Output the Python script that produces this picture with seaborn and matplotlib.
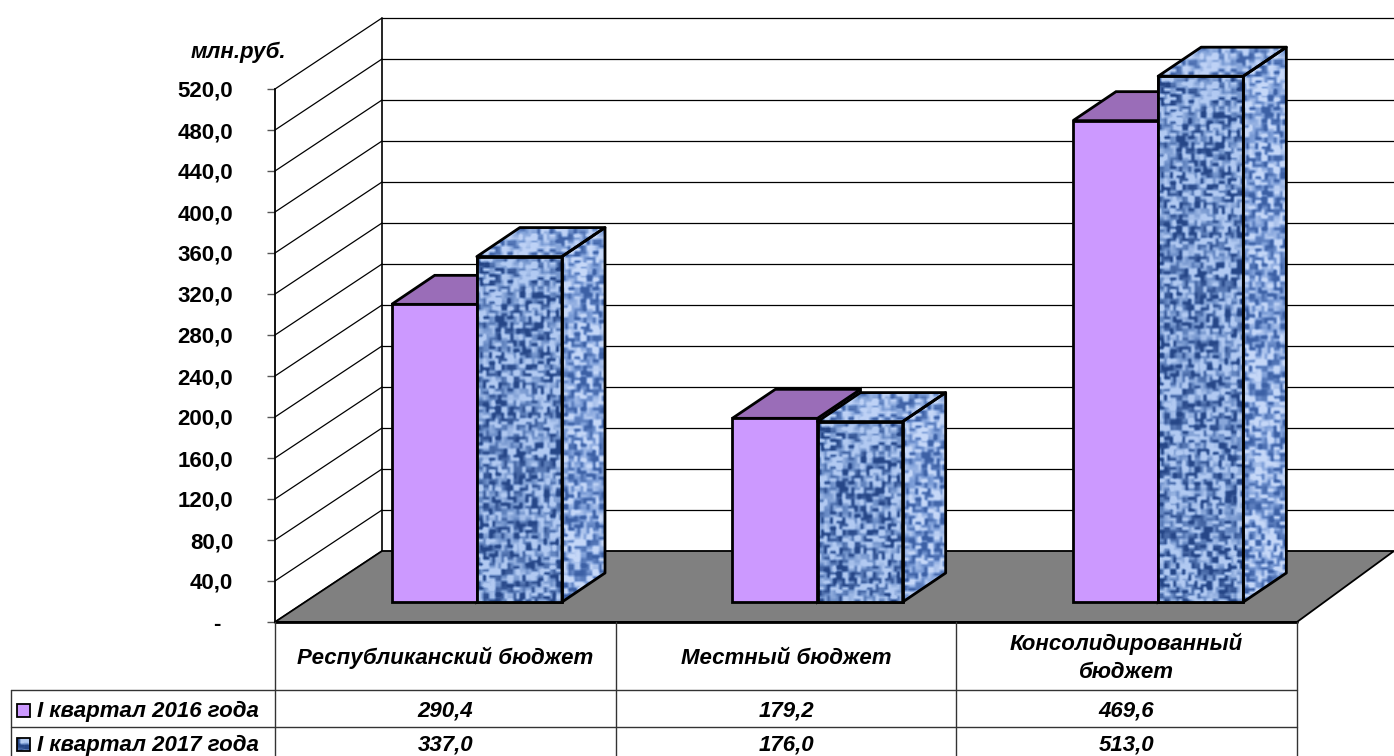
import numpy as np
import pandas as pd
import matplotlib
matplotlib.use("Agg")
import matplotlib.pyplot as plt
from matplotlib.patches import Polygon, Rectangle
import seaborn as sns

categories = ["Республиканский бюджет", "Местный бюджет", "Консолидированный\nбюджет"]
series_names = ["I квартал 2016 года", "I квартал 2017 года"]
values_2016 = [290.4, 179.2, 469.6]
values_2017 = [337.0, 176.0, 513.0]
y_ticks = [0, 40, 80, 120, 160, 200, 240, 280, 320, 360, 400, 440, 480, 520]
y_tick_labels = ["-  ", "40,0", "80,0", "120,0", "160,0", "200,0", "240,0", "280,0",
                 "320,0", "360,0", "400,0", "440,0", "480,0", "520,0"]
unit_label = "млн.руб."

sns.set_theme(style="white")
plt.rcParams["font.family"] = ["Liberation Sans", "DejaVu Sans"]
FS = 16

W, H = 1394, 756
fig = plt.figure(figsize=(W / 100, H / 100), dpi=100, facecolor="white")


def rect(l, t, r, b):
    return [l / W, (H - b) / H, (r - l) / W, (b - t) / H]


PX_CAT = (1297 - 275) / 3
PX_VAL = (622 - 89) / 520


def dx(px):
    return px / PX_CAT


def dy(px):
    return px / PX_VAL


def cell_noise(xx, yy, sx, sy, a, b):
    n = np.sin((xx // sx) * a + (yy // sy) * b) * 43758.5453
    return n - np.floor(n)


def texture(h, w, lo, mid, hi):
    """Deterministic woven-cloth texture, purely decorative."""
    yy, xx = np.mgrid[0:h, 0:w]
    horiz = cell_noise(xx, yy, 6, 3, 12.9898, 78.233)
    vert = cell_noise(xx, yy, 3, 6, 39.346, 11.135)
    mask = ((xx // 6 + yy // 6) % 2).astype(float)
    n = horiz * mask + vert * (1 - mask)
    blur = sum(np.roll(np.roll(n, i, axis=0), j, axis=1)
               for i in (-1, 0, 1) for j in (-1, 0, 1)) / 9
    t = np.clip((blur - 0.47) * 3.0, -1, 1)[..., None]
    lo, mid, hi = [np.array(c, float) / 255 for c in (lo, mid, hi)]
    return np.where(t < 0, mid + (lo - mid) * (-t), mid + (hi - mid) * t)


FRONT = ((38, 70, 135), (108, 142, 200), (178, 202, 242))
SIDE = ((60, 96, 165), (125, 158, 216), (198, 216, 248))
TOP = ((65, 100, 168), (125, 158, 214), (190, 210, 246))

# background: walls, floor and value axis
ax = fig.add_axes(rect(275, 89, 1297, 622), facecolor="none")
ax.set_xlim(-0.5, 2.5)
ax.set_ylim(0, 520)
for s in ["top", "right", "bottom"]:
    ax.spines[s].set_visible(False)
ax.spines["left"].set_color("black")
ax.spines["left"].set_linewidth(1.3)
ax.set_xticks([])
ax.set_yticks(y_ticks)
ax.set_yticklabels(y_tick_labels, fontsize=FS, fontweight="bold", color="black")
ax.tick_params(axis="y", left=True, length=6, width=1, color="#555555", pad=24)
ax.grid(False)

WALL_X, WALL_Y = dx(107), dy(71)
right_edge = -0.5 + dx(1394 - 275)
for v in y_ticks:
    ax.plot([-0.5, -0.5 + WALL_X], [v, v + WALL_Y], color="black", lw=0.9,
            clip_on=False, zorder=1)
    ax.plot([-0.5 + WALL_X, right_edge], [v + WALL_Y] * 2, color="black", lw=0.9,
            clip_on=False, zorder=1)
ax.plot([-0.5 + WALL_X] * 2, [WALL_Y, 520 + WALL_Y], color="black", lw=1.2,
        clip_on=False, zorder=1)
ax.add_patch(Polygon([(-0.5, 0), (2.5, 0), (right_edge, WALL_Y), (-0.5 + WALL_X, WALL_Y)],
                     closed=True, facecolor="#808080", edgecolor="black", lw=1.3,
                     clip_on=False, zorder=2))
ax.plot([-0.5, 2.5], [0, 0], color="black", lw=2, clip_on=False, zorder=3)

# bars: same scales, standing a little way back on the floor
bx = fig.add_axes(rect(275 + 31.5, 89 - 20, 1297 + 31.5, 622 - 20), facecolor="none")
df = pd.DataFrame({
    "category": categories * 2,
    "series": [series_names[0]] * 3 + [series_names[1]] * 3,
    "value": values_2016 + values_2017,
})
sns.barplot(data=df, x="category", y="value", hue="series", order=categories,
            hue_order=series_names, palette=["#CC99FF", "#7094D0"], width=0.5, gap=0,
            dodge=True, saturation=1, edgecolor="black", linewidth=2, legend=False,
            ax=bx)
bx.set_xlim(-0.5, 2.5)
bx.set_ylim(0, 520)
bx.axis("off")

BAR_X, BAR_Y = dx(43), dy(29)
bars = [p for p in bx.patches if p.get_height() > 0]
for i, p in enumerate(bars):
    is_2017 = i >= 3
    x0, w, v = p.get_x(), p.get_width(), p.get_height()
    z = 3 + (i % 3) * 3 + (1.5 if is_2017 else 0)
    top = [(x0, v), (x0 + BAR_X, v + BAR_Y), (x0 + w + BAR_X, v + BAR_Y), (x0 + w, v)]
    side = [(x0 + w, 0), (x0 + w + BAR_X, BAR_Y), (x0 + w + BAR_X, v + BAR_Y), (x0 + w, v)]
    front = [(x0, 0), (x0 + w, 0), (x0 + w, v), (x0, v)]
    if is_2017:
        for poly, cols, ext in [
            (top, TOP, (x0, x0 + w + BAR_X, v, v + BAR_Y)),
            (side, SIDE, (x0 + w, x0 + w + BAR_X, 0, v + BAR_Y)),
            (front, FRONT, (x0, x0 + w, 0, v)),
        ]:
            pxw = max(int((ext[1] - ext[0]) * PX_CAT), 4)
            pxh = max(int((ext[3] - ext[2]) * PX_VAL), 4)
            pg = Polygon(poly, closed=True, facecolor="none", edgecolor="black", lw=2,
                         joinstyle="round", clip_on=False, zorder=z + 0.2)
            bx.add_patch(pg)
            im = bx.imshow(texture(pxh, pxw, *cols), extent=ext, aspect="auto",
                           interpolation="bilinear", zorder=z + 0.1)
            im.set_clip_box(fig.bbox)
            im.set_clip_path(pg)
    else:
        bx.add_patch(Polygon(side, closed=True, facecolor="#9966BB", edgecolor="black",
                             lw=2, clip_on=False, zorder=z))
        bx.add_patch(Polygon(top, closed=True, facecolor="#9A6DB8", edgecolor="black",
                             lw=2, clip_on=False, zorder=z))
    p.set_zorder(z + (0.05 if is_2017 else 0.5))
    p.set_clip_on(False)
bx.set_xlim(-0.5, 2.5)
bx.set_ylim(0, 520)

# data table and unit label, laid out in pixels
tb = fig.add_axes([0, 0, 1, 1], facecolor="none")
tb.set_xlim(0, W)
tb.set_ylim(H, 0)
tb.axis("off")
LINE = "#333333"
col_x = [275, 616, 956, 1297]
for x in col_x:
    tb.plot([x, x], [622, H], color=LINE, lw=1)
tb.plot([11, 11], [690, H], color=LINE, lw=1)
for y in [690, 727]:
    tb.plot([11, 1297], [y, y], color=LINE, lw=1)
txt = dict(fontsize=FS, fontweight="bold", fontstyle="italic", color="black")
tb.text(286, 52, unit_label, ha="right", va="center", **txt)
centers = [(col_x[i] + col_x[i + 1]) / 2 for i in range(3)]
for cx, c in zip(centers, categories):
    tb.text(cx, 658, c, ha="center", va="center", linespacing=1.4, **txt)
for name, vals, y in [(series_names[0], values_2016, 711), (series_names[1], values_2017, 745)]:
    tb.text(37, y, name, ha="left", va="center", **txt)
    for cx, v in zip(centers, vals):
        tb.text(cx, y, f"{v:.1f}".replace(".", ","), ha="center", va="center", **txt)
tb.add_patch(Rectangle((17, 704), 13, 13, facecolor="#CC99FF", edgecolor="black", lw=1.3))
tb.imshow(texture(13, 13, *FRONT), extent=(17, 30, 751, 738), aspect="auto", zorder=2)
tb.add_patch(Rectangle((17, 738), 13, 13, facecolor="none", edgecolor="black", lw=1.3, zorder=3))
tb.set_xlim(0, W)
tb.set_ylim(H, 0)

fig.savefig("out.png", dpi=100, facecolor="white")
